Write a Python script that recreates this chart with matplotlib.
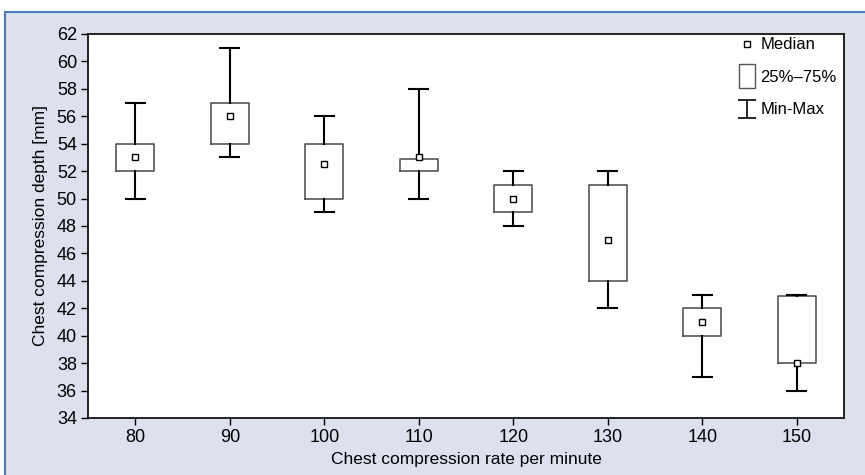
import numpy as np
import matplotlib.pyplot as plt
from matplotlib.patches import Rectangle
from matplotlib.lines import Line2D
from matplotlib.path import Path

rates = [80, 90, 100, 110, 120, 130, 140, 150]
mins = [50, 53, 49, 50, 48, 42, 37, 36]
q1 = [52, 54, 50, 52, 49, 44, 40, 38]
medians = [53, 56, 52.5, 53, 50, 47, 41, 38]
q3 = [54, 57, 54, 52.9, 51, 51, 42, 42.9]
maxs = [57, 61, 56, 58, 52, 52, 43, 43]

plt.rcParams['font.family'] = ['Liberation Sans Narrow', 'Liberation Sans', 'DejaVu Sans']

fig = plt.figure(figsize=(8.65, 4.75), dpi=100)

# panel background
top = 1 - 12 / 475
fig.add_artist(Rectangle((5 / 865, 0), 1, top, transform=fig.transFigure,
                         facecolor='#dde1ee', edgecolor='none', zorder=-10))
fig.add_artist(Line2D([5 / 865, 1], [top, top], transform=fig.transFigure,
                      color='#4f7cb8', lw=1.5, zorder=-9))
fig.add_artist(Line2D([5 / 865, 5 / 865], [0, top], transform=fig.transFigure,
                      color='#4f7cb8', lw=1.5, zorder=-9))

ax = fig.add_axes([88 / 865, 1 - 418 / 475, (844 - 88) / 865, (418 - 34) / 475])
ax.set_facecolor('white')

stats = []
for i in range(len(rates)):
    stats.append({'med': medians[i], 'q1': q1[i], 'q3': q3[i],
                  'whislo': mins[i], 'whishi': maxs[i], 'mean': medians[i],
                  'fliers': []})

ax.bxp(stats, positions=rates, widths=4, capwidths=2, showmeans=True,
       showfliers=False,
       boxprops=dict(color='#555555', lw=1.2),
       whiskerprops=dict(color='black', lw=1.5),
       capprops=dict(color='black', lw=1.5),
       medianprops=dict(lw=0),
       meanprops=dict(marker='s', markersize=5, markerfacecolor='white',
                      markeredgecolor='black', markeredgewidth=1))

ax.set_xlim(75, 155)
ax.set_ylim(34, 62)
ax.set_xticks(rates)
ax.set_xticklabels([str(r) for r in rates])
ax.set_yticks(np.arange(34, 63, 2))
ax.tick_params(labelsize=13, length=5, width=1, pad=3)
for s in ax.spines.values():
    s.set_linewidth(1.2)

ax.set_xlabel('Chest compression rate per minute', fontsize=12.5, labelpad=4)
ax.set_ylabel('Chest compression depth [mm]', fontsize=12.5, labelpad=6)

ibar = Path([(-1, 1), (1, 1), (0, 1), (0, -1), (-1, -1), (1, -1)],
            [Path.MOVETO, Path.LINETO, Path.MOVETO, Path.LINETO, Path.MOVETO, Path.LINETO])
tallbox = Path([(-0.7, -1), (0.7, -1), (0.7, 1), (-0.7, 1), (-0.7, -1)],
               [Path.MOVETO, Path.LINETO, Path.LINETO, Path.LINETO, Path.CLOSEPOLY])
handles = [
    Line2D([], [], ls='none', marker='s', markersize=5, markerfacecolor='white',
           markeredgecolor='black'),
    Line2D([], [], ls='none', marker=tallbox, markersize=17, markerfacecolor='white',
           markeredgecolor='#555555', markeredgewidth=1),
    Line2D([], [], ls='none', marker=ibar, markersize=13, markeredgecolor='black',
           markeredgewidth=1.2),
]
ax.legend(handles, ['Median', '25%–75%', 'Min-Max'], loc='upper right',
          frameon=False, fontsize=12, handlelength=1.0, handletextpad=0.3,
          labelspacing=1.05, bbox_to_anchor=(1.01, 1.03))

fig.savefig('out.png', dpi=100)
